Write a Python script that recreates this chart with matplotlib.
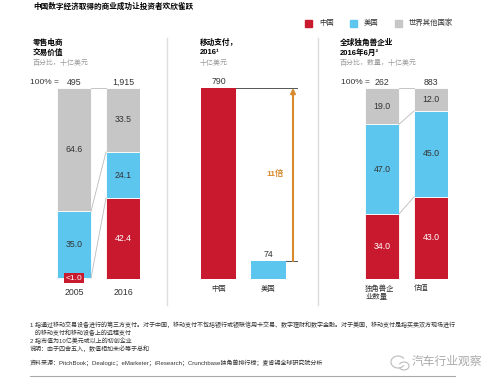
import matplotlib
matplotlib.use('Agg')
from matplotlib import pyplot as plt
from matplotlib.patches import Rectangle, Arc

plt.rcParams['font.family'] = ['Liberation Sans', 'Noto Sans CJK SC']

RED = '#C8192E'
BLUE = '#5CC6EE'
GRAY = '#C6C6C6'
ORANGE = '#D8892B'
TXT = '#333333'

# panel 1: retail e-commerce, % share
ecom_years = ['2005', '2016']
ecom_totals = ['495', '1,915']
ecom_china = [0.4, 42.4]
ecom_us = [35.0, 24.1]
ecom_rest = [64.6, 33.5]

# panel 2: mobile payments 2016, billion USD
pay_cats = ['中国', '美国']
pay_values = [790, 74]

# panel 3: unicorns June 2016, %
uni_cats = ['独角兽企\n业数量', '估值']
uni_totals = ['262', '883']
uni_china = [34.0, 43.0]
uni_us = [47.0, 45.0]
uni_rest = [19.0, 12.0]

W, H = 500, 385
fig = plt.figure(figsize=(W / 100, H / 100), dpi=100)
ov = fig.add_axes([0, 0, 1, 1])
ov.set_xlim(0, W)
ov.set_ylim(H, 0)
ov.axis('off')

TOP, BOT = 88, 279


def bar_axes(left, right, wpx, ymax):
    ax = fig.add_axes([left / W, (H - BOT) / H, (right - left) / W, (BOT - TOP) / H])
    spacing = (right - left) - wpx
    wb = wpx / spacing
    ax.set_xlim(-wb / 2, 1 + wb / 2)
    ax.set_ylim(0, ymax)
    ax.axis('off')
    return ax, wb


def stacked(ax, wb, china, us, rest, links):
    x = [0, 1]
    b2 = [c + u for c, u in zip(china, us)]
    ax.bar(x, china, wb, color=RED, edgecolor='white', linewidth=0.6)
    ax.bar(x, us, wb, bottom=china, color=BLUE, edgecolor='white', linewidth=0.6)
    ax.bar(x, rest, wb, bottom=b2, color=GRAY, edgecolor='white', linewidth=0.6)
    for i in x:
        for val, base, col in [(china[i], 0, 'white'), (us[i], china[i], TXT), (rest[i], b2[i], TXT)]:
            if val > 5:
                ax.text(i, base + val / 2, f'{val:.1f}', ha='center', va='center',
                        fontsize=6.3, color=col)
    for y0, y1 in links:
        ax.plot([wb / 2, 1 - wb / 2], [y0, y1], color='#BBBBBB', lw=0.6)


def panel_title(x, l1, l2, sub):
    ov.text(x, 43, l1, fontsize=5.5, fontweight='bold', va='center')
    ov.text(x, 53, l2, fontsize=5.5, fontweight='bold', va='center')
    ov.text(x, 63, sub, fontsize=5, color='#999999', va='center')


# title + legend
ov.text(33, 7, '中国数字经济取得的商业成功让投资者欢欣雀跃', fontsize=5.5,
        fontweight='bold', va='center')
for x0, col, lab in [(305, RED, '中国'), (350, BLUE, '美国'), (395, GRAY, '世界其他国家')]:
    ov.add_patch(Rectangle((x0, 20), 7, 7, color=col))
    ov.text(x0 + 14, 23.5, lab, fontsize=5.3, va='center', color=TXT)

# separators
for xs in [167, 318]:
    ov.plot([xs, xs], [38, 305], color='#DDDDDD', lw=1)

panel_title(33, '零售电商', '交易价值', '百分比，十亿美元')
panel_title(200, '移动支付，', '2016¹', '十亿美元')
panel_title(340, '全球独角兽企业', '2016年6月²', '百分比，数量，十亿美元')

# panel 1
ax1, wb1 = bar_axes(57, 140, 34, 100)
stacked(ax1, wb1, ecom_china, ecom_us, ecom_rest,
        [(100, 100), (ecom_china[0] + ecom_us[0], ecom_china[1] + ecom_us[1]),
         (ecom_china[0], ecom_china[1])])
ax1.text(0, 0.5, '<1.0', ha='center', va='center', fontsize=6, color='white', clip_on=False,
         bbox=dict(boxstyle='square,pad=0.15', fc=RED, ec='none'))
ov.text(30, 82, '100% =', fontsize=6, va='center', color=TXT)
for i, (tot, yr) in enumerate(zip(ecom_totals, ecom_years)):
    ax1.text(i, 103, tot, ha='center', va='center', fontsize=6.3, color=TXT, clip_on=False)
    ax1.text(i, -7, yr, ha='center', va='center', fontsize=6.3, color=TXT, clip_on=False)

# panel 2
ax2, wb2 = bar_axes(201, 286, 35, 790)
ax2.bar([0, 1], pay_values, wb2, color=[RED, BLUE])
xr = 1.57
ax2.plot([wb2 / 2, xr], [pay_values[0]] * 2, color='#555555', lw=0.7, clip_on=False)
ax2.plot([1 + wb2 / 2, xr], [pay_values[1]] * 2, color='#555555', lw=0.7, clip_on=False)
ax2.annotate('', xy=(1.49, pay_values[0]), xytext=(1.49, pay_values[1]),
             arrowprops=dict(arrowstyle='-|>', color=ORANGE, lw=1.5, mutation_scale=7,
                             shrinkA=0, shrinkB=0), annotation_clip=False)
ax2.text(1.13, 434, '11倍', ha='center', va='center', fontsize=6, color=ORANGE, fontweight='bold')
for i, (v, c) in enumerate(zip(pay_values, pay_cats)):
    ax2.text(i, v + 8, str(v), ha='center', va='bottom', fontsize=6.3, color=TXT, clip_on=False)
    ax2.text(i, -45, c, ha='center', va='center', fontsize=5.3, color=TXT, clip_on=False)

# panel 3
ax3, wb3 = bar_axes(365, 448, 34, 100)
stacked(ax3, wb3, uni_china, uni_us, uni_rest,
        [(100, 100), (uni_china[0] + uni_us[0], uni_china[1] + uni_us[1]),
         (uni_china[0], uni_china[1])])
ov.text(341, 82, '100% =', fontsize=6, va='center', color=TXT)
for i, (tot, c) in enumerate(zip(uni_totals, uni_cats)):
    ax3.text(i, 103, tot, ha='center', va='center', fontsize=6.3, color=TXT, clip_on=False)
    ax3.text(i - wb3 / 2, -3, c, ha='left', va='top', fontsize=5.3, color=TXT,
             clip_on=False, linespacing=1.3)

# footnotes
notes = ['1 指通过移动交易设备进行的第三方支付。对于中国，移动支付不包括银行或银联信用卡交易、数字理财和数字金融。对于美国，移动支付是指买卖双方现场进行',
         '   的移动支付和移动设备上的远程支付',
         '2 指市值为10亿美元或以上的初创企业',
         '说明：由于四舍五入，数值相加未必等于总和']
for k, line in enumerate(notes):
    ov.text(30, 325 + k * 8, line, fontsize=4.35, va='center', color=TXT)
ov.text(30, 363, '资料来源：PitchBook；Dealogic；eMarketer；iResearch；Crunchbase独角兽排行榜；麦肯锡全球研究院分析',
        fontsize=4.35, va='center', color=TXT)
ov.plot([30, 455], [376, 376], color='#AAAAAA', lw=0.8)

# watermark
ov.add_patch(Arc((398, 362), 14, 12, theta1=30, theta2=330, color='#BBBBBB', lw=0.8))
ov.add_patch(Arc((404, 366), 10, 8, theta1=200, theta2=160, color='#BBBBBB', lw=0.8))
ov.text(412, 362, '汽车行业观察', fontsize=8.5, va='center', color='#AAAAAA')

fig.savefig('out.png', dpi=100)
